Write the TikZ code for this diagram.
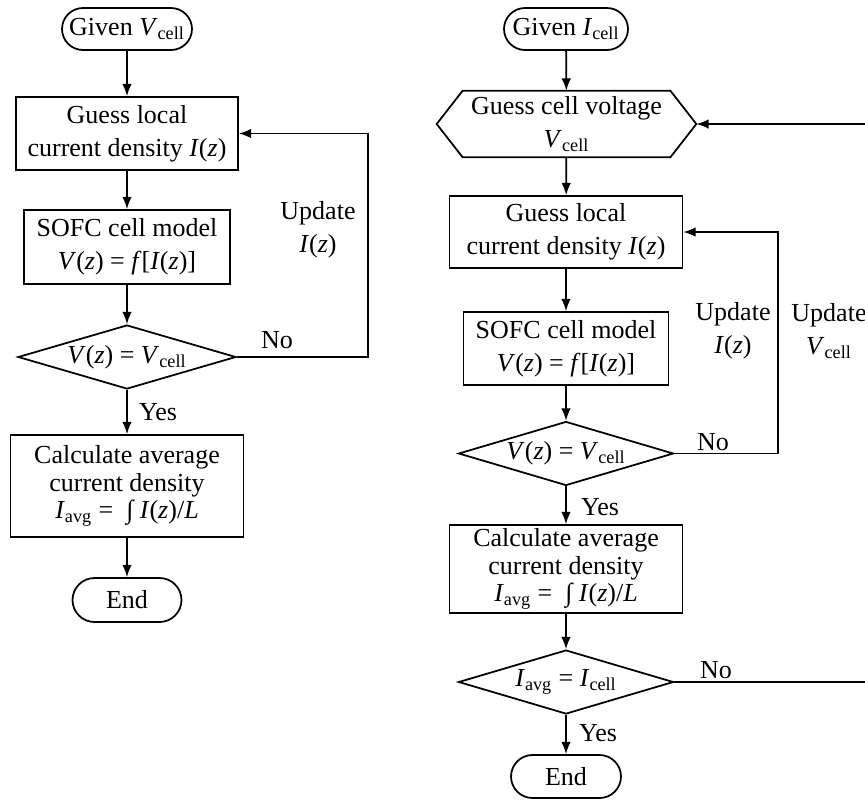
\documentclass[tikz,border=0pt]{standalone}
\usepackage{fontspec}
\setmainfont{Liberation Serif}
\usetikzlibrary{arrows.meta,positioning,calc,shapes.geometric}

\begin{document}
\begin{tikzpicture}[x=0.02cm,y=-0.02cm,>={Latex[length=7pt,width=5.5pt]}]
\tikzset{txt/.style={font=\fontsize{14.8}{18.7}\selectfont, align=center, inner sep=0pt},
  base/.style={txt, draw, line width=1pt},
  terminal/.style={base, rectangle, rounded corners=0.42cm, minimum height=0.84cm},
  process/.style={base, rectangle},
  decision/.style={base, diamond, aspect=3.4, minimum height=1.28cm},
  calcbox/.style={process, minimum width=4.66cm, font=\fontsize{14.8}{15.6}\selectfont},
  flow/.style={->, line width=1pt}
}
\useasboundingbox (0,0) rectangle (865,802);

% left: given cell voltage
\node[terminal, minimum width=2.6cm] (startL) at (127,29) {Given \textit{V}\textsubscript{cell}};
\node[process, minimum width=4.44cm, minimum height=1.46cm] (guessL) at (127,133.5) {Guess local\\current density \textit{I}(\textit{z})};
\node[process, minimum width=4.12cm, minimum height=1.48cm] (modelL) at (127,247) {SOFC cell model\\\textit{V}(\textit{z}) = \textit{f}[\textit{I}(\textit{z})]};
\node[decision, minimum width=4.36cm] (checkL) at (127,357) {\textit{V}(\textit{z}) = \textit{V}\textsubscript{cell}};
\node[calcbox, minimum height=2.04cm] (calcL) at (127,486) {Calculate average\\current density\\\textit{I}\textsubscript{avg} = \ ∫ \textit{I}(\textit{z})/\textit{L}};
\node[terminal, minimum width=2.18cm, minimum height=0.88cm, rounded corners=0.44cm] (endL) at (127,600) {End};

\draw[flow] (startL) -- (guessL);
\draw[flow] (guessL) -- (modelL);
\draw[flow] (modelL) -- (checkL);
\draw[flow] (checkL) -- (calcL);
\draw[flow] (calcL) -- (endL);
\draw[flow] (checkL.east) -- ++(131,0) |- (guessL.east);

\node[txt] (noL) at (277,340) {No};
\node[txt] (yesL) at (158,412) {Yes};
\node[txt] (updL) at (318,230) {Update\\\textit{I}(\textit{z})};

% right: given cell current
\node[terminal, minimum width=2.48cm] (startR) at (566,29) {Given \textit{I}\textsubscript{cell}};
\node[txt, minimum width=4.14cm, minimum height=1.32cm] (guessV) at (566.5,124) {Guess cell voltage\\\textit{V}\textsubscript{cell}};
\coordinate (guessVw) at ([xshift=-0.52cm]guessV.west);
\coordinate (guessVe) at ([xshift=0.52cm]guessV.east);
\draw[line width=1pt] (guessV.north west) -- (guessV.north east) -- (guessVe) -- (guessV.south east) -- (guessV.south west) -- (guessVw) -- cycle;
\node[process, minimum width=4.66cm, minimum height=1.44cm] (guessR) at (566,232) {Guess local\\current density \textit{I}(\textit{z})};
\node[process, minimum width=4.1cm, minimum height=1.46cm] (modelR) at (566,348.5) {SOFC cell model\\\textit{V}(\textit{z}) = \textit{f}[\textit{I}(\textit{z})]};
\node[decision, minimum width=4.3cm] (checkR) at (566,453.5) {\textit{V}(\textit{z}) = \textit{V}\textsubscript{cell}};
\node[calcbox, minimum height=1.76cm] (calcR) at (566,569) {Calculate average\\current density\\\textit{I}\textsubscript{avg} = \ ∫ \textit{I}(\textit{z})/\textit{L}};
\node[decision, minimum width=4.3cm] (checkI) at (566,682) {\textit{I}\textsubscript{avg} = \textit{I}\textsubscript{cell}};
\node[terminal, minimum width=2.2cm, minimum height=0.86cm, rounded corners=0.43cm] (endR) at (566,776.5) {End};

\draw[flow] (startR) -- (guessV);
\draw[flow] (guessV) -- (guessR);
\draw[flow] (guessR) -- (modelR);
\draw[flow] (modelR) -- (checkR);
\draw[flow] (checkR) -- (calcR);
\draw[flow] (calcR) -- (checkI);
\draw[flow] (checkI) -- (endR);
\draw[flow] (checkR.east) -- (778,453.5) |- (guessR.east);
\draw[flow] (checkI.east) -- (868,682) |- (guessVe);

\node[txt] (noR) at (713,442) {No};
\node[txt] (noI) at (716,670) {No};
\node[txt] (yesR) at (600,507) {Yes};
\node[txt] (yesI) at (598,733) {Yes};
\node[txt] (updR) at (733,331) {Update\\\textit{I}(\textit{z})};
\node[txt] (updV) at (829,331) {Update\\\textit{V}\textsubscript{cell}};

\end{tikzpicture}
\end{document}
